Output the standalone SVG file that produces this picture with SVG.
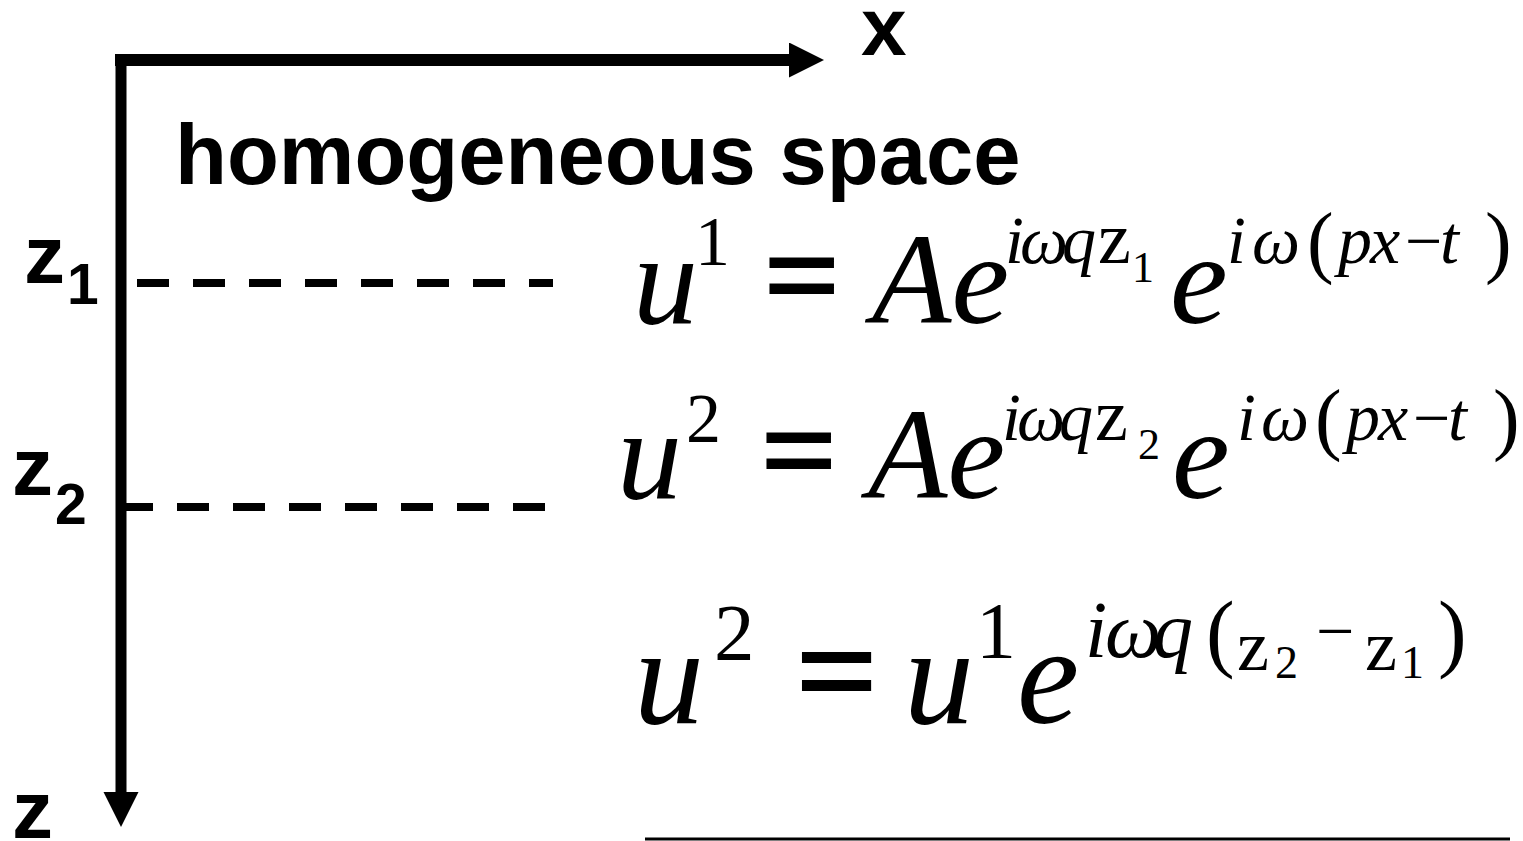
<svg xmlns="http://www.w3.org/2000/svg" width="1523" height="841" viewBox="0 0 1523 841">
<style>
.lbl{font-family:'Liberation Sans',Arial,sans-serif;font-weight:bold;fill:#000}
.m{font-family:'Liberation Serif','Times New Roman',serif;fill:#000}
.it{font-style:italic}
.eq{stroke:#000;stroke-width:4}
.axis{stroke:#000;fill:none}
.dash{stroke:#000;stroke-width:8;stroke-dasharray:32 24;fill:none}
</style>
<defs>
<marker id="ah" markerUnits="userSpaceOnUse" markerWidth="36" markerHeight="36" refX="0" refY="17.5" orient="auto" viewBox="0 0 36 36">
<path d="M0,0 L35,17.5 L0,35 Z" fill="#000"/>
</marker>
</defs>
<rect width="1523" height="841" fill="#fff"/>
<g id="connectors">
<line class="axis" x1="115" y1="60" x2="789" y2="60" stroke-width="12" marker-end="url(#ah)"/>
<line class="axis" x1="121" y1="54" x2="121" y2="792" stroke-width="11" marker-end="url(#ah)"/>
<line class="dash" x1="137" y1="283" x2="553" y2="283"/>
<line class="dash" x1="121" y1="507" x2="545" y2="507"/>
<line class="axis" x1="645" y1="839" x2="1510" y2="839" stroke-width="3"/>
</g>
<g id="label-x"><text class="lbl" x="861" y="55" font-size="82">x</text></g>
<g id="label-title"><text class="lbl" x="175" y="184" font-size="85">homogeneous space</text></g>
<g id="label-z1"><text class="lbl" x="24" y="283" font-size="82">z</text><text class="lbl" x="67" y="304" font-size="57">1</text></g>
<g id="label-z2"><text class="lbl" x="12" y="495" font-size="82">z</text><text class="lbl" x="55" y="524" font-size="57">2</text></g>
<g id="label-z"><text class="lbl" x="12" y="838" font-size="82">z</text></g>
<g id="eq1">
<text class="m it" x="633" y="323" font-size="130">u</text>
<text class="m" x="695" y="265" font-size="70">1</text>
<text class="m eq" x="765" y="319" font-size="130">=</text>
<text class="m it" x="872" y="323" font-size="130">Ae</text>
<text class="m it" y="263" font-size="68"><tspan x="1005">i</tspan><tspan x="1020">ω</tspan><tspan x="1062">q</tspan></text>
<text class="m" x="1098" y="263" font-size="74">z</text>
<text class="m" x="1132" y="282" font-size="44">1</text>
<text class="m it" x="1170" y="323" font-size="130">e</text>
<text class="m it" y="263" font-size="68"><tspan x="1227">i</tspan><tspan x="1252">ω</tspan><tspan x="1338">p</tspan><tspan x="1370">x</tspan><tspan x="1440">t</tspan></text>
<text class="m" x="1405" y="263" font-size="66">−</text>
<text class="m" y="268" font-size="80"><tspan x="1307">(</tspan><tspan x="1485">)</tspan></text>
</g>
<g id="eq2">
<text class="m it" x="617" y="498" font-size="130">u</text>
<text class="m" x="686" y="442" font-size="70">2</text>
<text class="m eq" x="762" y="494" font-size="130">=</text>
<text class="m it" x="868" y="498" font-size="130">Ae</text>
<text class="m it" y="440" font-size="68"><tspan x="1002">i</tspan><tspan x="1017">ω</tspan><tspan x="1059">q</tspan></text>
<text class="m" x="1095" y="440" font-size="74">z</text>
<text class="m" x="1138" y="459" font-size="44">2</text>
<text class="m it" x="1172" y="498" font-size="130">e</text>
<text class="m it" y="440" font-size="68"><tspan x="1237">i</tspan><tspan x="1261">ω</tspan><tspan x="1346">p</tspan><tspan x="1378">x</tspan><tspan x="1448">t</tspan></text>
<text class="m" x="1413" y="440" font-size="66">−</text>
<text class="m" y="445" font-size="80"><tspan x="1315">(</tspan><tspan x="1493">)</tspan></text>
</g>
<g id="eq3">
<text class="m it" x="634" y="723" font-size="140">u</text>
<text class="m" x="714" y="660" font-size="81">2</text>
<text class="m eq" x="797" y="718" font-size="140" stroke-width="4.5">=</text>
<text class="m it" x="904" y="723" font-size="140">u</text>
<text class="m" x="976" y="658" font-size="80">1</text>
<text class="m it" x="1017" y="723" font-size="140">e</text>
<text class="m it" y="657" font-size="80"><tspan x="1085">i</tspan><tspan x="1105">ω</tspan><tspan x="1153">q</tspan></text>
<text class="m" y="661" font-size="86"><tspan x="1206">(</tspan><tspan x="1438">)</tspan></text>
<text class="m" y="670" font-size="72"><tspan x="1237">z</tspan><tspan x="1365">z</tspan></text>
<text class="m" y="678" font-size="46"><tspan x="1275">2</tspan><tspan x="1401">1</tspan></text>
<text class="m" x="1316" y="654" font-size="68">−</text>
</g>
</svg>
